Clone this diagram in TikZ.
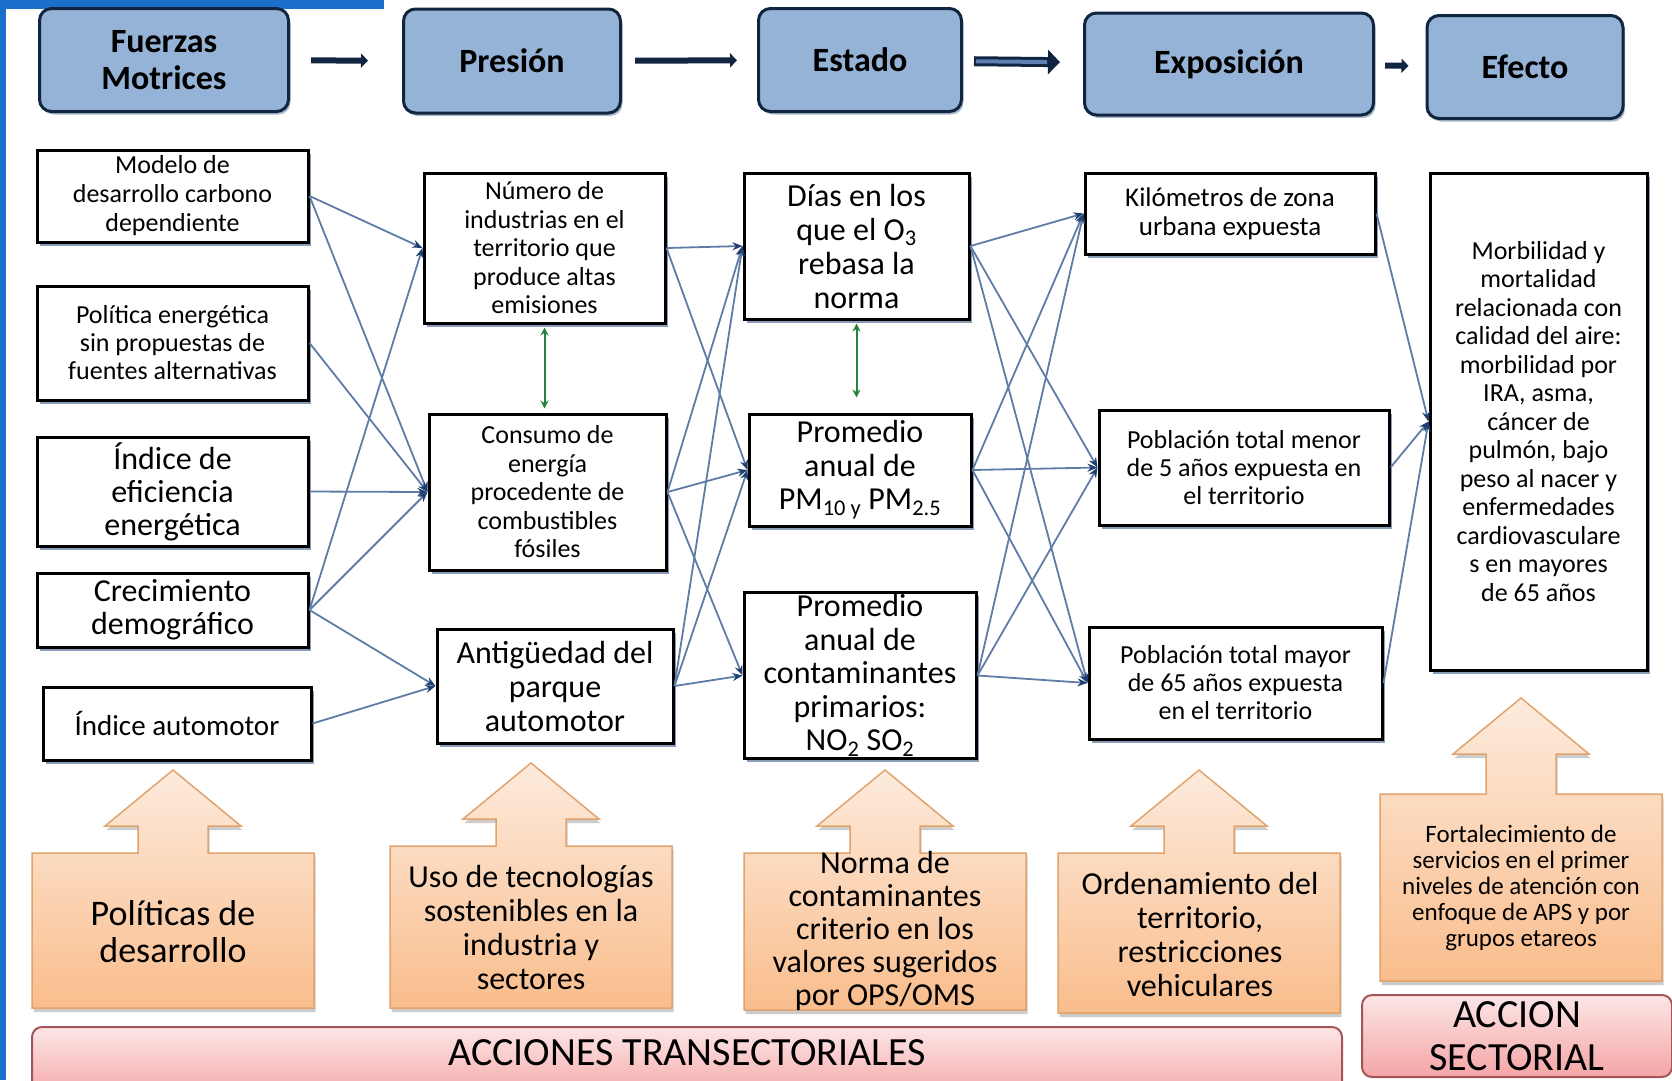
\documentclass[tikz,border=0pt]{standalone}
\usepackage{fontspec}
\setmainfont{Carlito}
\usepackage{xcolor}
\usetikzlibrary{arrows.meta, shadows}

\definecolor{stagefill}{HTML}{95B3D7}
\definecolor{stageline}{HTML}{10253F}
\definecolor{stagecore}{HTML}{5F80B5}
\definecolor{linkblue}{HTML}{5E7CA6}
\definecolor{tipblue}{HTML}{1F3F73}
\definecolor{pairgreen}{HTML}{24843C}
\definecolor{calltop}{HTML}{FDEBDD}
\definecolor{callbot}{HTML}{F9BD8C}
\definecolor{callline}{HTML}{E1A36E}
\definecolor{bantop}{HTML}{FCE6E6}
\definecolor{banbot}{HTML}{F5A5A6}
\definecolor{banline}{HTML}{A65556}
\definecolor{edgeblue}{HTML}{1A6FCB}
\definecolor{halo}{HTML}{8A9DB8}

% orange up-arrow box: left x, box top, box bottom, shaft height
\newcommand{\upcallout}[4]{%
  \draw[callout] (#1,#3) -- (#1,#2) -- ++(106,0) -- ++(0,-#4) -- ++(-33,0)
    -- ++(68,-56) -- ++(68,56) -- ++(-33,0) -- ++(0,#4) -- ++(106,0)
    -- ({#1+282},#3) -- cycle;
}

\begin{document}
\begin{tikzpicture}[x=1pt, y=-1pt,
    stage/.style={draw=stageline, line width=3pt, fill=stagefill, rounded corners=12pt,
      align=center, font=\fontsize{34}{37}\selectfont\bfseries,
      drop shadow={shadow xshift=2pt, shadow yshift=-3pt, fill=halo, opacity=.7}},
    stagearrow/.style={stageline, line width=6pt, -{Triangle[length=7pt, width=14pt]}},
    box/.style={draw=black, line width=3pt, fill=white, align=center, inner sep=2pt,
      drop shadow={shadow xshift=3pt, shadow yshift=-3.5pt, fill=halo, opacity=1}},
    link/.style={linkblue, line width=1.8pt, -{Stealth[length=10pt, width=8pt, color=tipblue]}},
    pair/.style={pairgreen, line width=2pt, {Stealth[length=8pt, width=8pt]}-{Stealth[length=8pt, width=8pt]}},
    callout/.style={draw=callline, line width=1.5pt, top color=calltop, bottom color=callbot,
      drop shadow={shadow xshift=1.5pt, shadow yshift=-4pt, fill=black, opacity=.2}},
    calltext/.style={align=center, inner sep=0pt},
    banner/.style={draw=banline, line width=2pt, rounded corners=10pt, top color=bantop, bottom color=banbot}
  ]
  \useasboundingbox (0,0) rectangle (1672,1080);
  \clip (0,0) rectangle (1672,1080);

  % page edge
  \fill[edgeblue] (0,0) rectangle (6,1080);
  \fill[edgeblue] (0,0) rectangle (384,9);

  % stages
  \node[stage, minimum width=249pt, minimum height=103pt] (fuerzas) at (164,60) {Fuerzas\\Motrices};
  \node[stage, minimum width=217pt, minimum height=104pt] (presion) at (512,61) {Presión};
  \node[stage, minimum width=203pt, minimum height=103pt] (estado) at (860,60) {Estado};
  \node[stage, minimum width=289pt, minimum height=102pt] (exposicion) at (1229,64) {Exposición};
  \node[stage, minimum width=196pt, minimum height=103pt] (efecto) at (1525,67) {Efecto};

  \draw[stagearrow, shorten <=21pt, shorten >=34pt] (fuerzas) -- (presion);
  \draw[stagearrow, shorten <=13pt, shorten >=20pt] (presion) -- (estado);
  \draw[stagearrow, line width=10pt, -{Triangle[length=12pt, width=24pt]}, shorten <=11pt, shorten >=23pt] (estado) -- (exposicion);
  \draw[stagecore, line width=4pt, shorten <=13pt, shorten >=36pt] (estado) -- (exposicion);
  \draw[stagearrow, shorten <=10pt, shorten >=17pt] (exposicion) -- (efecto);

  % fuerzas motrices
  \node[box, minimum width=271pt, minimum height=92pt, font=\fontsize{26}{29}\selectfont] (modelo) at (172.5,196) {Modelo de\\desarrollo carbono\\dependiente};
  \node[box, minimum width=271pt, minimum height=114pt, font=\fontsize{26}{28}\selectfont] (politica) at (172.5,343) {Política energética\\sin propuestas de\\fuentes alternativas};
  \node[box, minimum width=271pt, minimum height=109pt, font=\fontsize{32}{33}\selectfont] (eficiencia) at (172.5,491.5) {Índice de\\eficiencia\\energética};
  \node[box, minimum width=271pt, minimum height=74pt, font=\fontsize{32}{33}\selectfont] (crecimiento) at (172.5,610) {Crecimiento\\demográfico};
  \node[box, minimum width=268pt, minimum height=73pt, font=\fontsize{29}{31}\selectfont] (automotor) at (177,723.5) {Índice automotor};

  % presion
  \node[box, minimum width=241pt, minimum height=150pt, font=\fontsize{26}{28.5}\selectfont] (industrias) at (544.5,248) {Número de\\industrias en el\\territorio que\\produce altas\\emisiones};
  \node[box, minimum width=237pt, minimum height=156pt, font=\fontsize{26}{28.5}\selectfont] (consumo) at (547.5,492) {Consumo de\\energía\\procedente de\\combustibles\\fósiles};
  \node[box, minimum width=236pt, minimum height=114pt, font=\fontsize{32}{34}\selectfont] (antiguedad) at (555,686) {Antigüedad del\\parque\\automotor};

  % estado
  \node[box, minimum width=225pt, minimum height=146pt, font=\fontsize{32}{34}\selectfont] (dias) at (856.5,246) {Días en los\\que el O\textsubscript{3}\\rebasa la\\norma};
  \node[box, minimum width=222pt, minimum height=112pt, font=\fontsize{32}{33.5}\selectfont] (particulas) at (860,470) {Promedio\\anual de\\PM\textsubscript{10 y} PM\textsubscript{2.5}};
  \node[box, minimum width=232pt, minimum height=163pt, font=\fontsize{32}{33.5}\selectfont] (primarios) at (860,675.5) {Promedio\\anual de\\contaminantes\\primarios:\\NO\textsubscript{2} SO\textsubscript{2}};

  % exposicion
  \node[box, minimum width=290pt, minimum height=81pt, font=\fontsize{27}{29}\selectfont] (kilometros) at (1230,213.5) {Kilómetros de zona\\urbana expuesta};
  \node[box, minimum width=290pt, minimum height=115pt, font=\fontsize{26}{28}\selectfont] (menores) at (1244,467.5) {Población total menor\\de 5 años expuesta en\\el territorio};
  \node[box, minimum width=293pt, minimum height=112pt, font=\fontsize{26}{28}\selectfont] (mayores) at (1235.5,683) {Población total mayor\\de 65 años expuesta\\en el territorio};

  % efecto
  \node[box, minimum width=217pt, minimum height=497pt, font=\fontsize{26}{28.5}\selectfont] (morbilidad) at (1538.5,421.5) {Morbilidad y\\mortalidad\\relacionada con\\calidad del aire:\\morbilidad por\\IRA, asma,\\cáncer de\\pulmón, bajo\\peso al nacer y\\enfermedades\\cardiovasculare\\s en mayores\\de 65 años};

  \begin{scope}[link]
    \draw (modelo.east) -- (industrias.west);
    \draw (modelo.east) -- (consumo.west);
    \draw (politica.east) -- (consumo.west);
    \draw (eficiencia.east) -- (consumo.west);
    \draw (crecimiento.east) -- (industrias.west);
    \draw (crecimiento.east) -- (consumo.west);
    \draw (crecimiento.east) -- (antiguedad.west);
    \draw (automotor.east) -- (antiguedad.west);
  \end{scope}

  \begin{scope}[link]
    \draw (industrias.east) -- (dias.west);
    \draw (industrias.east) -- (particulas.west);
    \draw (consumo.east) -- (dias.west);
    \draw (consumo.east) -- (particulas.west);
    \draw (consumo.east) -- (primarios.west);
    \draw (antiguedad.east) -- (dias.west);
    \draw (antiguedad.east) -- (particulas.west);
    \draw (antiguedad.east) -- (primarios.west);
  \end{scope}

  \begin{scope}[link]
    \draw (dias.east) -- (kilometros.west);
    \draw (dias.east) -- (menores.west);
    \draw (dias.east) -- (mayores.west);
    \draw (particulas.east) -- (kilometros.west);
    \draw (particulas.east) -- (menores.west);
    \draw (particulas.east) -- (mayores.west);
    \draw (primarios.east) -- (kilometros.west);
    \draw (primarios.east) -- (menores.west);
    \draw (primarios.east) -- (mayores.west);
  \end{scope}

  \begin{scope}[link]
    \draw (kilometros.east) -- (morbilidad.west);
    \draw (menores.east) -- (morbilidad.west);
    \draw (mayores.east) -- (morbilidad.west);
  \end{scope}

  \draw[pair, shorten <=3pt, shorten >=4pt] (industrias.south) -- (industrias.south |- consumo.north);
  \draw[pair, shorten <=3pt, shorten >=15pt] (dias.south) -- (dias.south |- particulas.north);

  % acciones
  \upcallout{32}{853}{1008}{27}
  \upcallout{390}{846}{1008}{27}
  \upcallout{744}{853}{1010}{27}
  \upcallout{1058}{853}{1013}{27}
  \upcallout{1380}{794}{981}{40}

  \node[calltext, font=\fontsize{36}{37}\selectfont] (politicas) at (173,932) {Políticas de\\desarrollo};
  \node[calltext, font=\fontsize{32}{34}\selectfont] (tecnologias) at (531,927) {Uso de tecnologías\\sostenibles en la\\industria y\\sectores};
  \node[calltext, font=\fontsize{32}{33}\selectfont] (norma) at (885,931) {Norma de\\contaminantes\\criterio en los\\valores sugeridos\\por OPS/OMS};
  \node[calltext, font=\fontsize{32}{34}\selectfont] (ordenamiento) at (1200,934) {Ordenamiento del\\territorio,\\restricciones\\vehiculares};
  \node[calltext, font=\fontsize{25}{26}\selectfont] (fortalecimiento) at (1521,888) {Fortalecimiento de\\servicios en el primer\\niveles de atención con\\enfoque de APS y por\\grupos etareos};

  \draw[banner] (32,1027) rectangle (1342,1100);
  \node[font=\fontsize{40}{42}\selectfont] (transectorial) at (687,1053) {ACCIONES TRANSECTORIALES};
  \node[banner, minimum width=310pt, minimum height=82pt, align=center, font=\fontsize{40}{43}\selectfont] (sectorial) at (1517,1036) {ACCION\\SECTORIAL};
\end{tikzpicture}
\end{document}
